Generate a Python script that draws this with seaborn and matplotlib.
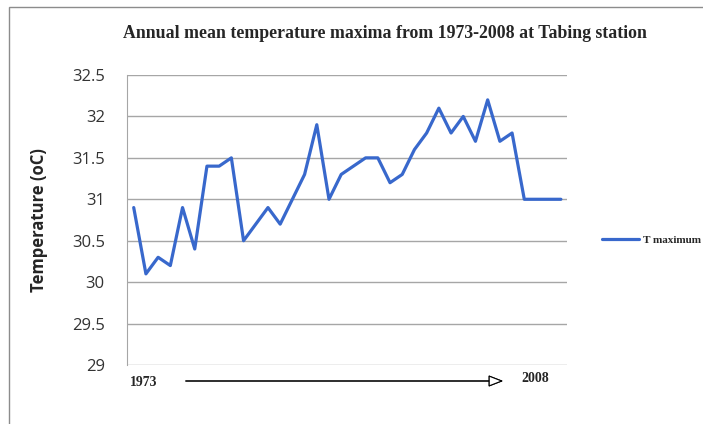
import matplotlib
matplotlib.use("Agg")
import matplotlib.pyplot as plt
import pandas as pd
import seaborn as sns
from matplotlib.patches import Rectangle

years = list(range(1973, 2009))
t_max = [30.9, 30.1, 30.3, 30.2, 30.9, 30.4, 31.4, 31.4, 31.5, 30.5,
         30.7, 30.9, 30.7, 31.0, 31.3, 31.9, 31.0, 31.3, 31.4, 31.5,
         31.5, 31.2, 31.3, 31.6, 31.8, 32.1, 31.8, 32.0, 31.7, 32.2,
         31.7, 31.8, 31.0, 31.0, 31.0, 31.0]
y_ticks = [29, 29.5, 30, 30.5, 31, 31.5, 32, 32.5]
y_tick_labels = ["29", "29.5", "30", "30.5", "31", "31.5", "32", "32.5"]

df = pd.DataFrame({"year": years, "T maximum": t_max})

sns.set_style("white")
fig = plt.figure(figsize=(7.03, 4.24), dpi=100)
ax = fig.add_axes([127 / 703, 1 - 365 / 424, 440 / 703, 290 / 424])

sns.lineplot(data=df, x="year", y="T maximum", color="#3868cc", linewidth=2.3,
             label="T maximum", ax=ax)

ax.set_xlim(1972.45, 2008.5)
ax.set_ylim(29, 32.5)
ax.set_yticks(y_ticks)
ax.set_yticklabels(y_tick_labels, fontfamily="Open Sans", fontsize=12, color="#333333")
ax.set_xticks([])
ax.set_xlabel("")
ax.set_ylabel("Temperature (oC)", fontfamily="Open Sans", fontweight="bold",
              fontsize=12)
ax.yaxis.set_label_coords((48 - 127) / 440, 0.5)
ax.tick_params(axis="y", length=0, pad=16)
ax.grid(axis="y", color="#a6a6a6", linewidth=1.0)
for side in ["top", "right", "bottom"]:
    ax.spines[side].set_visible(False)
ax.spines["left"].set_color("#a6a6a6")

leg = ax.legend(loc="center left", bbox_to_anchor=(592 / 703, 1 - 240 / 424),
                bbox_transform=fig.transFigure, frameon=False, handlelength=3.3,
                handletextpad=0.35,
                prop={"family": "Liberation Serif", "weight": "bold", "size": 8})

fig.text(385 / 703, 1 - 33 / 424,
         "Annual mean temperature maxima from 1973-2008 at Tabing station",
         ha="center", va="center", fontfamily="Liberation Serif",
         fontweight="bold", fontsize=12.8)

fig.text(130 / 703, 1 - 382 / 424, "1973", ha="left", va="center",
         fontfamily="Liberation Serif", fontweight="bold", fontsize=10)
fig.text(521 / 703, 1 - 379 / 424, "2008", ha="left", va="center",
         fontfamily="Liberation Serif", fontweight="bold", fontsize=10)
fig.add_artist(plt.annotate("", xy=(506 / 703, 1 - 381 / 424),
                            xytext=(183 / 703, 1 - 381 / 424),
                            xycoords="figure fraction", textcoords="figure fraction",
                            arrowprops=dict(arrowstyle="-|>,head_length=0.9,head_width=0.35",
                                            ec="black", fc="white", lw=0.8)))

fig.patches.append(Rectangle((9 / 703, -0.05), 1.0, 1 - 7 / 424 + 0.05,
                             transform=fig.transFigure, fill=False,
                             edgecolor="#8c8c8c", linewidth=1.0, figure=fig))

fig.savefig("out.png", dpi=100)
